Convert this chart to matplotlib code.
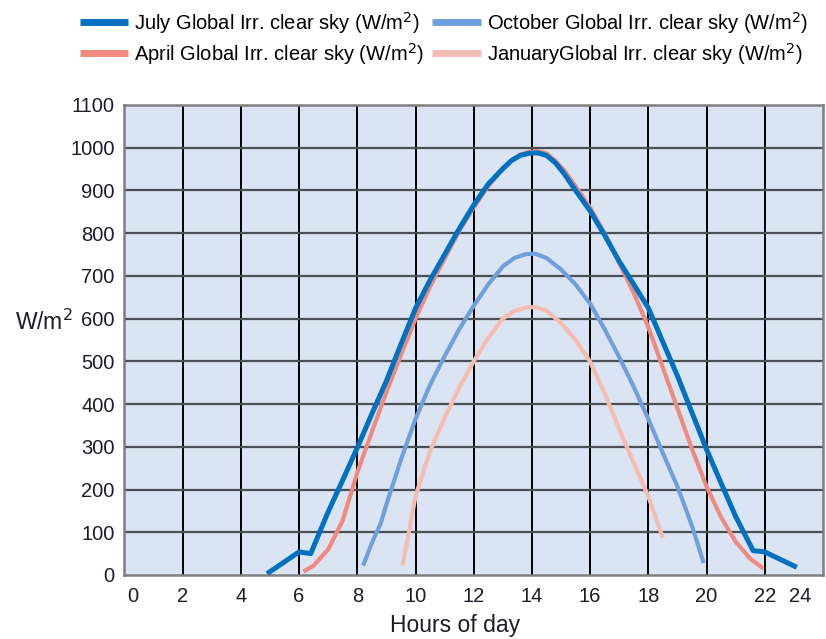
import matplotlib
matplotlib.use("Agg")
import matplotlib.pyplot as plt
import matplotlib.transforms as mtransforms

# Stundenwerte
july_h = [4.9, 6.0, 6.4, 7.0, 7.5, 8.0, 8.5, 9.0, 9.5, 10.0, 10.5, 11.0, 11.5, 12.0,
          12.5, 13.0, 13.3, 13.6, 13.9, 14.2, 14.5, 14.8, 15.1, 15.5, 16.0, 16.5,
          17.0, 17.5, 18.0, 18.5, 19.0, 19.5, 20.0, 20.5, 21.0, 21.6, 22.0, 23.1]
july_v = [3, 54, 50, 148, 222, 298, 377, 454, 540, 624, 690, 750, 810, 866,
          915, 951, 970, 982, 987, 988, 982, 965, 940, 900, 852, 795,
          734, 680, 625, 545, 466, 380, 294, 215, 137, 57, 54, 18]

april_h = [6.15, 6.5, 7.0, 7.5, 8.0, 8.5, 9.0, 9.5, 10.0, 10.5, 11.0, 11.5, 12.0,
           12.5, 13.0, 13.3, 13.6, 13.9, 14.2, 14.5, 14.8, 15.1, 15.5, 16.0, 16.5,
           17.0, 17.5, 18.0, 18.5, 19.0, 19.5, 20.0, 20.5, 21.0, 21.5, 21.95]
april_v = [8, 22, 60, 128, 240, 335, 428, 515, 600, 675, 740, 805, 860,
           910, 950, 970, 984, 990, 992, 987, 970, 948, 910, 860, 800,
           730, 660, 580, 485, 390, 295, 207, 135, 78, 38, 15]

october_h = [8.2, 8.5, 8.8, 9.0, 9.5, 10.0, 10.5, 11.0, 11.5, 12.0, 12.5, 13.0, 13.4,
             13.8, 14.1, 14.5, 15.0, 15.5, 16.0, 16.5, 17.0, 17.5, 18.0, 18.5, 19.0,
             19.5, 19.9]
october_v = [22, 75, 120, 165, 270, 365, 445, 512, 575, 630, 680, 722, 742,
             751, 752, 742, 715, 680, 635, 575, 510, 440, 365, 285, 207,
             115, 28]

january_h = [9.55, 9.8, 10.0, 10.5, 11.0, 11.5, 12.0, 12.5, 13.0, 13.4, 13.8, 14.1,
             14.5, 15.0, 15.5, 16.0, 16.5, 17.0, 17.5, 18.0, 18.5]
january_v = [22, 110, 184, 290, 368, 438, 500, 555, 600, 618, 626, 627,
             619, 590, 550, 499, 425, 341, 262, 184, 87]

x_ticks = list(range(0, 25, 2))
y_ticks = list(range(0, 1101, 100))

plt.rcParams['font.family'] = ['Liberation Sans', 'DejaVu Sans']
text_col = '#1c1c2a'

fig = plt.figure(figsize=(8.26, 6.39), dpi=100)
ax = fig.add_axes([0.1507, 0.1002, 0.8456, 0.7355])
ax.set_facecolor('#dbe4f2')

# Gitter
for xv in x_ticks[1:-1]:
    ax.axvline(xv, color='black', lw=1.4, zorder=1)
for yv in y_ticks[1:-1]:
    ax.axhline(yv, color='#4a4e55', lw=1.6, zorder=1)

l_jan, = ax.plot(january_h, january_v, color='#f5bcb2', lw=3.0, zorder=2,
                 solid_capstyle='butt', solid_joinstyle='round')
l_oct, = ax.plot(october_h, october_v, color='#6fa0dc', lw=3.0, zorder=3,
                 solid_capstyle='butt', solid_joinstyle='round')
l_apr, = ax.plot(april_h, april_v, color='#f08a80', lw=3.0, zorder=4,
                 solid_capstyle='butt', solid_joinstyle='round')
l_jul, = ax.plot(july_h, july_v, color='#0070c0', lw=3.6, zorder=5,
                 solid_capstyle='butt', solid_joinstyle='round')

ax.set_xlim(0, 24)
ax.set_ylim(0, 1100)
ax.set_xticks(x_ticks)
ax.set_yticks(y_ticks)
ax.tick_params(length=0, labelsize=14.5, colors=text_col)
ax.tick_params(axis='x', pad=9)
ax.tick_params(axis='y', pad=7)

# erste und letzte x-Beschriftung wie im Original nach innen versetzen
xl = ax.get_xticklabels()
xl[0].set_transform(xl[0].get_transform() +
                    mtransforms.ScaledTranslation(8 / 100, 0, fig.dpi_scale_trans))
xl[-1].set_transform(xl[-1].get_transform() +
                     mtransforms.ScaledTranslation(-23 / 100, 0, fig.dpi_scale_trans))

for s in ax.spines.values():
    s.set_color('#7f7f7f')
    s.set_linewidth(1.8)

ax.set_xlabel("Hours of day", fontsize=16.5, color=text_col)
ax.xaxis.set_label_coords(0.473, -0.083)
ax.set_ylabel("W/m$^2$", fontsize=16.5, rotation=0, color=text_col,
              va='center', ha='center')
ax.yaxis.set_label_coords(-0.115, 0.538)

lab = "Global Irr. clear sky (W/m$^2$)"
fig.legend([l_jul, l_apr, l_oct, l_jan],
           ["July " + lab, "April " + lab, "October " + lab, "January" + lab],
           loc='upper center', bbox_to_anchor=(0.5375, 1.01), ncol=2,
           frameon=False, fontsize=14.5, handlelength=2.4, handletextpad=0.3,
           columnspacing=0.4, labelspacing=0.25, borderpad=0.3)
for h in fig.legends[0].legend_handles:
    h.set_linewidth(5)

fig.savefig("out.png", dpi=100)
